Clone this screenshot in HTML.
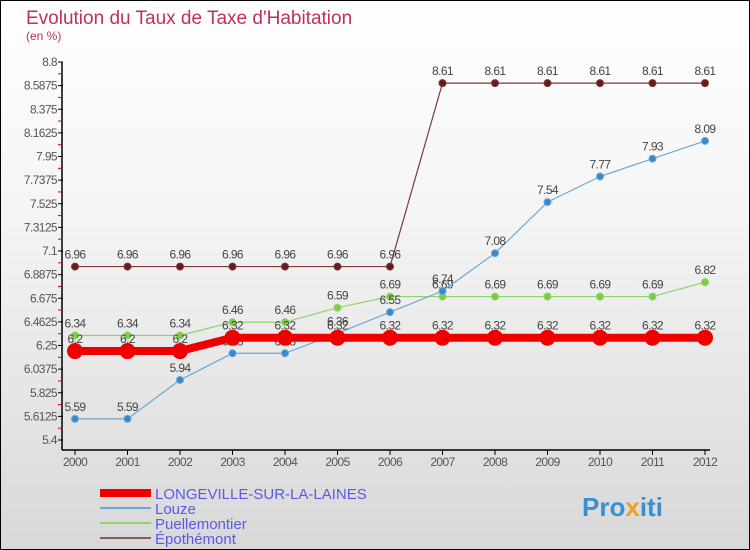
<!DOCTYPE html>
<html><head><meta charset="utf-8"><style>
body{margin:0}
#c{width:750px;height:550px;position:relative;box-sizing:border-box;border:1px solid #000;background:linear-gradient(#ffffff,#f4f4f4 40%,#d8d8d8);font-family:"Liberation Sans",sans-serif;overflow:hidden}
svg text{font-family:"Liberation Sans",sans-serif}
</style></head><body>
<div id="c">
<svg id="s" width="750" height="550" xmlns="http://www.w3.org/2000/svg" style="position:absolute;left:-1px;top:-1px">
<text x="26" y="24" font-size="19" fill="#c0305a">Evolution du Taux de Taxe d'Habitation</text>
<text x="26" y="40" font-size="12" fill="#c0305a">(en %)</text>
<g id="axes"></g><g id="series"></g><g id="legend"></g>
<text x="582" y="516" font-size="26" font-weight="bold" fill="#3a8fd0">Pro<tspan fill="#f0a020">x</tspan>iti</text>
</svg></div>
<script>
const years=[2000,2001,2002,2003,2004,2005,2006,2007,2008,2009,2010,2011,2012];
const yTicks=["5.4","5.6125","5.825","6.0375","6.25","6.4625","6.675","6.8875","7.1","7.3125","7.525","7.7375","7.95","8.1625","8.375","8.5875","8.8"];
const longeville=[6.2,6.2,6.2,6.32,6.32,6.32,6.32,6.32,6.32,6.32,6.32,6.32,6.32];
const louze=[5.59,5.59,5.94,6.18,6.18,6.36,6.55,6.74,7.08,7.54,7.77,7.93,8.09];
const puellemontier=[6.34,6.34,6.34,6.46,6.46,6.59,6.69,6.69,6.69,6.69,6.69,6.69,6.82];
const epothemont=[6.96,6.96,6.96,6.96,6.96,6.96,6.96,8.61,8.61,8.61,8.61,8.61,8.61];
const NS="http://www.w3.org/2000/svg";
const X=i=>75+i*52.5, Y=v=>62+(8.8-v)/3.4*378;
function mk(t,a,p){const e=document.createElementNS(NS,t);for(const k in a)e.setAttribute(k,a[k]);p.appendChild(e);return e;}
const ax=document.getElementById('axes');
let e=mk('line',{x1:62,y1:62,x2:62,y2:450,stroke:'#000','stroke-width':1.5},ax);


e=mk('line',{x1:62,y1:450,x2:710,y2:450,stroke:'#000','stroke-width':1.5},ax);


yTicks.forEach((t,i)=>{const y=Y(+t);
 mk('line',{x1:58,y1:y,x2:63,y2:y,stroke:'#000'},ax);
 if(i<yTicks.length-1)mk('line',{x1:58,y1:Y(+t+0.10625),x2:62,y2:Y(+t+0.10625),stroke:'#e00'},ax);
 const tx=mk('text',{x:57,y:y+4,'font-size':12,fill:'#555','text-anchor':'end','letter-spacing':'-0.6'},ax);tx.textContent=t;
 
 });
years.forEach((yr,i)=>{mk('line',{x1:X(i),y1:450,x2:X(i),y2:455,stroke:'#000'},ax);
 const tx=mk('text',{x:X(i),y:466,'font-size':12,fill:'#555','text-anchor':'middle','letter-spacing':'-0.6'},ax);tx.textContent=yr;
 
 });
const sg=document.getElementById('series');
function series(d,col,w,r,name,dot){
 const g=mk('g',{},sg);
 
 
 mk('polyline',{points:d.map((v,i)=>X(i)+','+Y(v)).join(' '),fill:'none',stroke:col,'stroke-width':w},g);
 d.forEach((v,i)=>{const c=mk('circle',{cx:X(i),cy:Y(v),r:r,fill:dot,stroke:col},g);
  
  
  const t=mk('text',{x:X(i),y:Y(v)-8,'font-size':12,fill:'#444','text-anchor':'middle','letter-spacing':'-0.6'},g);t.textContent=v;});
}
series(epothemont,'#7a3a3a',1.2,3.5,'series-epothemont','#6a1a1a');
series(puellemontier,'#8fd468',1.2,3.5,'series-puellemontier','#7ccc44');
series(louze,'#6aa8d8',1.2,3.5,'series-louze','#3a88c8');
series(longeville,'#ee0000',8,7.5,'series-longeville','#ee0000');
const lg=document.getElementById('legend');
[['LONGEVILLE-SUR-LA-LAINES','#ee0000',8],['Louze','#6aa8d8',2],['Puellemontier','#8fd468',2],['Épothémont','#8a5a5a',2]].forEach((d,i)=>{
 const y=493+i*15;
 const g=mk('g',{},lg);
 
 
 mk('line',{x1:100,y1:y,x2:151,y2:y,stroke:d[1],'stroke-width':d[2]},g);
 const t=mk('text',{x:155,y:y+6,'font-size':15,fill:'#5a5ae8'},g);t.textContent=d[0];});
</script></body></html>
